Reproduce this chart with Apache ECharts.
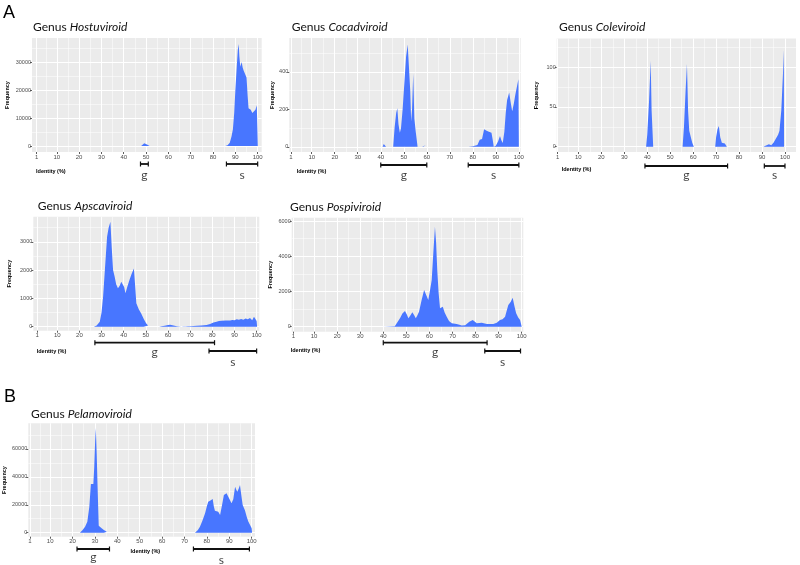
<!DOCTYPE html>
<html>
<head>
<meta charset="utf-8">
<script src="https://cdn.jsdelivr.net/npm/echarts@6/dist/echarts.min.js"></script>
<style>
  html, body { margin: 0; padding: 0; background: #fff; }
  #main { width: 800px; height: 565px; }
</style>
</head>
<body>
<div id="main"></div>
<script>
// identity (%) axis breaks
const identityTicks = [1, 10, 20, 30, 40, 50, 60, 70, 80, 90, 100];
const identityMinor = [5.5, 15, 25, 35, 45, 55, 65, 75, 85, 95];

// frequency per identity, [identity, frequency]; a null frequency = no hits (gap)
const hostuviroid = [
  [47.8, 0], [48.5, 500], [49.2, 1000], [49.8, 1000], [50.6, 500], [51.6, 0], [60, null],
  [85.5, 0], [86.5, 300], [87.5, 1200], [88.3, 3500], [88.9, 6000], [89.5, 12000], [90, 20000],
  [90.6, 28000], [91.1, 34300], [91.5, 36500], [91.8, 32000], [92.2, 28300], [92.8, 30000],
  [93.3, 28000], [93.7, 27000], [94.4, 27700], [95, 24500], [95.5, 18000], [95.9, 13500],
  [96.9, 13000], [97.6, 11800], [98.4, 11100], [99, 13000], [99.6, 14600], [100, 15200], [100.05, 0]
];
const cocadviroid = [
  [40.8, 0], [41.3, 15], [41.8, 15], [42.3, 0], [44, null], [45.4, 0], [46, 100], [46.7, 180],
  [47.2, 205], [47.7, 120], [48.3, 75], [48.8, 100], [49.5, 200], [50.3, 350], [51, 480],
  [51.7, 545], [52.4, 550], [52.8, 300], [53.2, 135], [53.6, 200], [54.1, 390], [54.6, 150],
  [55.2, 80], [56, 0], [57, null], [58, 0], [58.5, 8], [59.5, 8], [60, 0], [70, null], [78, 0], [80, 3], [82, 10],
  [83, 38], [84, 42], [84.9, 93], [86, 85], [87, 80], [88.1, 75], [88.6, 40], [89.1, 0],
  [90, 5], [91, 30], [91.8, 57], [92.4, 35], [93, 20], [93.7, 80], [94.3, 180], [94.9, 250],
  [95.8, 290], [96.4, 240], [97.1, 190], [97.8, 230], [98.5, 280], [99.3, 330], [99.8, 360], [100, 0]
];
const coleviroid = [
  [39.5, 0], [40, 15], [40.8, 58], [41.5, 108], [41.9, 46], [42.6, 0], [50, null],
  [55.4, 0], [56, 25], [56.7, 70], [57.3, 104], [57.8, 45], [58.3, 20], [59, 12], [59.6, 5], [60.3, 0], [65, null],
  [69.6, 0], [70, 12], [70.6, 22], [71.2, 26], [71.8, 12], [72.5, 5], [73.2, 7], [73.8, 4], [74.7, 0], [80, null],
  [90.5, 0], [91, 2], [93, 3], [94, 2], [95, 5], [96, 10], [97, 15], [97.6, 20], [98.4, 46],
  [99.1, 90], [99.5, 122], [99.6, 0]
];
const apscaviroid = [
  [26.5, 0], [27.8, 40], [29.2, 177], [30, 500], [30.7, 1060], [31.5, 2000], [32.5, 3180],
  [33.2, 3500], [34, 3710], [34.6, 2800], [35.2, 2000], [35.9, 1770], [36.6, 1500], [37.4, 1360],
  [38.2, 1450], [38.9, 1590], [39.6, 1650], [40.2, 1400], [40.8, 1180], [41.6, 1400], [42.6, 1650],
  [43.5, 1850], [44.6, 2060], [45.2, 1400], [45.7, 830], [46.8, 620], [47.9, 470], [49, 280],
  [50.1, 120], [51, 40], [51.9, 0], [54, null], [56, 0], [57, 20], [58.5, 35], [60, 60], [61, 65], [62, 50],
  [63, 30], [64, 20], [65, 10], [66, 2], [67, 10], [68, 8], [69, 15], [70, 20], [73, 30], [75, 40],
  [77.4, 60], [79, 100], [80.5, 150], [81.9, 177], [83, 205], [84.1, 212], [86, 215], [88, 220],
  [89, 240], [90, 230], [91, 260], [92, 250], [93, 270], [94, 250], [95, 290], [96, 260], [97, 310],
  [98, 230], [98.8, 350], [99.5, 420], [100, 200], [100.2, 0]
];
const pospiviroid = [
  [40, 0], [40.3, 25], [45, 30], [45.8, 80], [47.3, 500], [48.3, 750], [49.4, 890],
  [50.2, 700], [50.9, 480], [51.8, 650], [52.6, 820], [53.4, 650], [54.1, 480], [54.8, 650],
  [55.5, 850], [56.6, 1500], [57.7, 2085], [58.6, 1800], [59.5, 1520], [60.3, 2100], [61, 2650],
  [61.7, 4200], [62.4, 5680], [62.9, 4800], [63.4, 3220], [64, 1900], [64.6, 1045], [65.3, 1080],
  [65.8, 1140], [66.6, 800], [67.5, 570], [68.5, 330], [69.7, 190], [71.8, 160], [73, 110],
  [74, 70], [75.5, 80], [76.4, 180], [77.3, 284], [78.8, 380], [79.6, 300], [80.5, 193],
  [82.7, 227], [84.9, 153], [87.7, 153], [89.2, 227], [90.6, 380], [91.7, 420], [92.8, 570],
  [93.5, 900], [94.2, 1233], [95.2, 1400], [96.1, 1650], [96.8, 1200], [97.6, 760], [98.5, 520],
  [99.3, 380], [99.9, 300], [100, 0]
];
const pelamoviroid = [
  [23.3, 0], [24.5, 2000], [25.6, 4300], [26.6, 7900], [27.5, 18600], [28.2, 34900],
  [29.3, 34900], [29.7, 47300], [30.1, 66000], [30.4, 75000], [30.8, 56000], [31.1, 37800],
  [31.7, 5000], [33, 3100], [34, 2000], [35.3, 700], [36, 0], [50, null], [74.7, 0], [76, 2000], [76.9, 4300],
  [78, 8500], [79.2, 13900], [80, 19000], [80.6, 22200], [81.6, 23000], [82.6, 24100], [83.1, 19000],
  [83.6, 15800], [84.4, 16000], [85.1, 15100], [85.9, 12700], [86.8, 20000], [87.6, 27000],
  [88.3, 28200], [88.8, 28200], [89.8, 25000], [91, 21100], [91.8, 24000], [92.6, 33000],
  [93.1, 31000], [93.6, 29400], [94.2, 31500], [94.8, 34200], [95.3, 28000], [96, 19900],
  [97, 16000], [97.8, 11500], [98.5, 8000], [99.3, 5500], [100, 3100], [100.2, 0]
];

// frequency axis breaks
const hostuYTicks = [0, 10000, 20000, 30000];
const hostuYMinor = [5000, 15000, 25000, 35000];
const cocadYTicks = [0, 200, 400];
const cocadYMinor = [100, 300, 500];
const coleYTicks = [0, 50, 100];
const coleYMinor = [25, 75, 125];
const apscaYTicks = [0, 1000, 2000, 3000];
const apscaYMinor = [500, 1500, 2500, 3500];
const pospiYTicks = [0, 2000, 4000, 6000];
const pospiYMinor = [1000, 3000, 5000];
const pelamoYTicks = [0, 20000, 40000, 60000];
const pelamoYMinor = [10000, 30000, 50000, 70000];

// genus (g) and species (s) identity ranges
const hostuG = [47.5, 51], hostuS = [86, 100];
const cocadG = [40, 60], cocadS = [78, 100];
const coleG = [39, 75], coleS = [91, 100];
const apscaG = [27, 81], apscaS = [78.5, 100];
const pospiG = [40, 85], pospiS = [84, 99.5];
const pelamoG = [22, 36.5], pelamoS = [74, 99];

const blue = '#4876FF';
const axisFont = 'Liberation Sans, Arial, sans-serif';
const textFont = 'Lato, Liberation Sans, sans-serif';

// layout: box = [left, top, width, height], hh = height of strip under the panel
const panels = [
  { genus: 'Hostuviroid', data: hostuviroid, yt: hostuYTicks, ym: hostuYMinor, g: hostuG, s: hostuS,
    box: [32, 38, 229.7, 114], x: [-1.1, 101.8], y: [-2100, 38600], gap: 22, hh: 35,
    title: [33, 21.5], idLabel: [36, 168], barY: [12, 12], labY: [23, 23] },
  { genus: 'Cocadviroid', data: cocadviroid, yt: cocadYTicks, ym: cocadYMinor, g: cocadG, s: cocadS,
    box: [289.3, 38, 231.4, 114], x: [0.26, 100.8], y: [-28, 580], gap: 13, hh: 35,
    title: [291.7, 21.5], idLabel: [296.7, 168], barY: [13, 13], labY: [23, 23] },
  { genus: 'Coleviroid', data: coleviroid, yt: coleYTicks, ym: coleYMinor, g: coleG, s: coleS,
    box: [556.7, 38.5, 239.3, 113.5], x: [0.56, 104.8], y: [-6.6, 136], gap: 17, hh: 35,
    title: [559, 21.5], idLabel: [561.7, 166], barY: [14, 14], labY: [23.5, 23.5] },
  { genus: 'Apscaviroid', data: apscaviroid, yt: apscaYTicks, ym: apscaYMinor, g: apscaG, s: apscaS,
    box: [33.3, 216.7, 226, 114], x: [-0.8, 101.2], y: [-141, 3886], gap: 21, hh: 35,
    title: [37.7, 200.2], idLabel: [36.7, 348.7], barY: [12, 20.3], labY: [21.3, 31.3] },
  { genus: 'Pospiviroid', data: pospiviroid, yt: pospiYTicks, ym: pospiYMinor, g: pospiG, s: pospiS,
    box: [291.7, 217.7, 231.6, 114], x: [0.3, 100.7], y: [-284, 6193], gap: 18, hh: 35,
    title: [290, 200.8], idLabel: [290.7, 347.7], barY: [11, 19.3], labY: [20.3, 30.3] },
  { genus: 'Pelamoviroid', data: pelamoviroid, yt: pelamoYTicks, ym: pelamoYMinor, g: pelamoG, s: pelamoS,
    box: [28.3, 423.3, 226.7, 113.4], x: [0.24, 101.5], y: [-2867, 78400], gap: 21, hh: 28,
    title: [31, 408.2], idLabel: [130.5, 548.3], barY: [12.3, 12.3], labY: [20.3, 23.3] }
];

const grid = [], xAxis = [], yAxis = [], series = [], graphic = [];

graphic.push({ type: 'text', left: 3, top: 4, style: { text: 'A', font: '18px ' + axisFont, fill: '#000' } });
graphic.push({ type: 'text', left: 4, top: 388, style: { text: 'B', font: '18px ' + axisFont, fill: '#000' } });

panels.forEach(function (p) {
  const gi = grid.length;
  grid.push({ left: p.box[0], top: p.box[1], width: p.box[2], height: p.box[3],
    show: true, backgroundColor: '#EBEBEB', borderWidth: 0 });
  // strip under the panel for the g / s range bars
  grid.push({ left: p.box[0], top: p.box[1] + p.box[3], width: p.box[2], height: p.hh, show: false });

  const xi = xAxis.length, yi = yAxis.length;
  xAxis.push({
    type: 'value', gridIndex: gi, min: p.x[0], max: p.x[1], position: 'bottom',
    axisLine: { show: false, onZero: false },
    axisTick: { show: true, length: 2, customValues: identityTicks, lineStyle: { color: '#333', width: 0.8 } },
    axisLabel: { customValues: identityTicks, fontSize: 6, color: '#4D4D4D', margin: 2, fontFamily: axisFont,
      formatter: function (v) { return String(v); } },
    splitLine: { show: true, lineStyle: { color: '#fff', width: 1 } }
  });
  xAxis.push({
    type: 'value', gridIndex: gi, min: p.x[0], max: p.x[1], position: 'top',
    axisLine: { show: false, onZero: false }, axisLabel: { show: false },
    axisTick: { show: false, customValues: identityMinor },
    splitLine: { show: true, lineStyle: { color: '#fff', width: 0.5 } }
  });
  xAxis.push({ type: 'value', gridIndex: gi + 1, min: p.x[0], max: p.x[1], show: false });

  yAxis.push({
    type: 'value', gridIndex: gi, min: p.y[0], max: p.y[1], position: 'left',
    name: 'Frequency', nameLocation: 'middle', nameGap: p.gap, nameRotate: 90,
    nameTextStyle: { fontSize: 5.5, fontWeight: 'bold', color: '#000', fontFamily: axisFont },
    axisLine: { show: false, onZero: false },
    axisTick: { show: true, length: 2, customValues: p.yt, lineStyle: { color: '#333', width: 0.8 } },
    axisLabel: { customValues: p.yt, fontSize: 5.5, color: '#4D4D4D', margin: 1, fontFamily: axisFont,
      formatter: function (v) { return String(v); } },
    splitLine: { show: true, lineStyle: { color: '#fff', width: 1 } }
  });
  yAxis.push({
    type: 'value', gridIndex: gi, min: p.y[0], max: p.y[1], position: 'right',
    axisLine: { show: false, onZero: false }, axisLabel: { show: false },
    axisTick: { show: false, customValues: p.ym },
    splitLine: { show: true, lineStyle: { color: '#fff', width: 0.5 } }
  });
  yAxis.push({ type: 'value', gridIndex: gi + 1, min: 0, max: p.hh, inverse: true, show: false });

  series.push({
    type: 'line', xAxisIndex: xi, yAxisIndex: yi, data: p.data,
    symbol: 'none', color: blue, lineStyle: { width: 0, opacity: 0 }, connectNulls: false,
    areaStyle: { color: blue, opacity: 1, origin: 0 }, silent: true, animation: false
  });

  [['g', p.g, p.barY[0], p.labY[0]], ['s', p.s, p.barY[1], p.labY[1]]].forEach(function (r) {
    series.push({
      type: 'line', xAxisIndex: xi + 2, yAxisIndex: yi + 2,
      data: [[r[1][0], r[2]], [r[1][1], r[2]]],
      symbol: 'rect', symbolSize: [1.2, 5], showSymbol: true, color: '#111',
      lineStyle: { color: '#111', width: 1.8 }, silent: true, animation: false
    });
    series.push({
      type: 'scatter', xAxisIndex: xi + 2, yAxisIndex: yi + 2,
      data: [[(r[1][0] + r[1][1]) / 2, r[3]]], symbolSize: 0, silent: true, animation: false,
      label: { show: true, position: 'inside', formatter: r[0], fontSize: 12, color: '#111', fontFamily: textFont }
    });
  });

  graphic.push({
    type: 'text', left: p.title[0], top: p.title[1],
    style: {
      text: '{n|Genus }{i|' + p.genus + '}',
      rich: {
        n: { fontSize: 12, fontFamily: textFont, fill: '#111', color: '#111' },
        i: { fontSize: 12, fontFamily: textFont, fontStyle: 'italic', fill: '#111', color: '#111' }
      }
    }
  });
  graphic.push({
    type: 'text', left: p.idLabel[0], top: p.idLabel[1],
    style: { text: 'Identity (%)', font: 'bold 5.5px ' + axisFont, fill: '#000' }
  });
});

const chart = echarts.init(document.getElementById('main'), null, { renderer: 'canvas' });
chart.setOption({
  backgroundColor: '#fff',
  animation: false,
  grid: grid,
  xAxis: xAxis,
  yAxis: yAxis,
  series: series,
  graphic: graphic
});
</script>
</body>
</html>
